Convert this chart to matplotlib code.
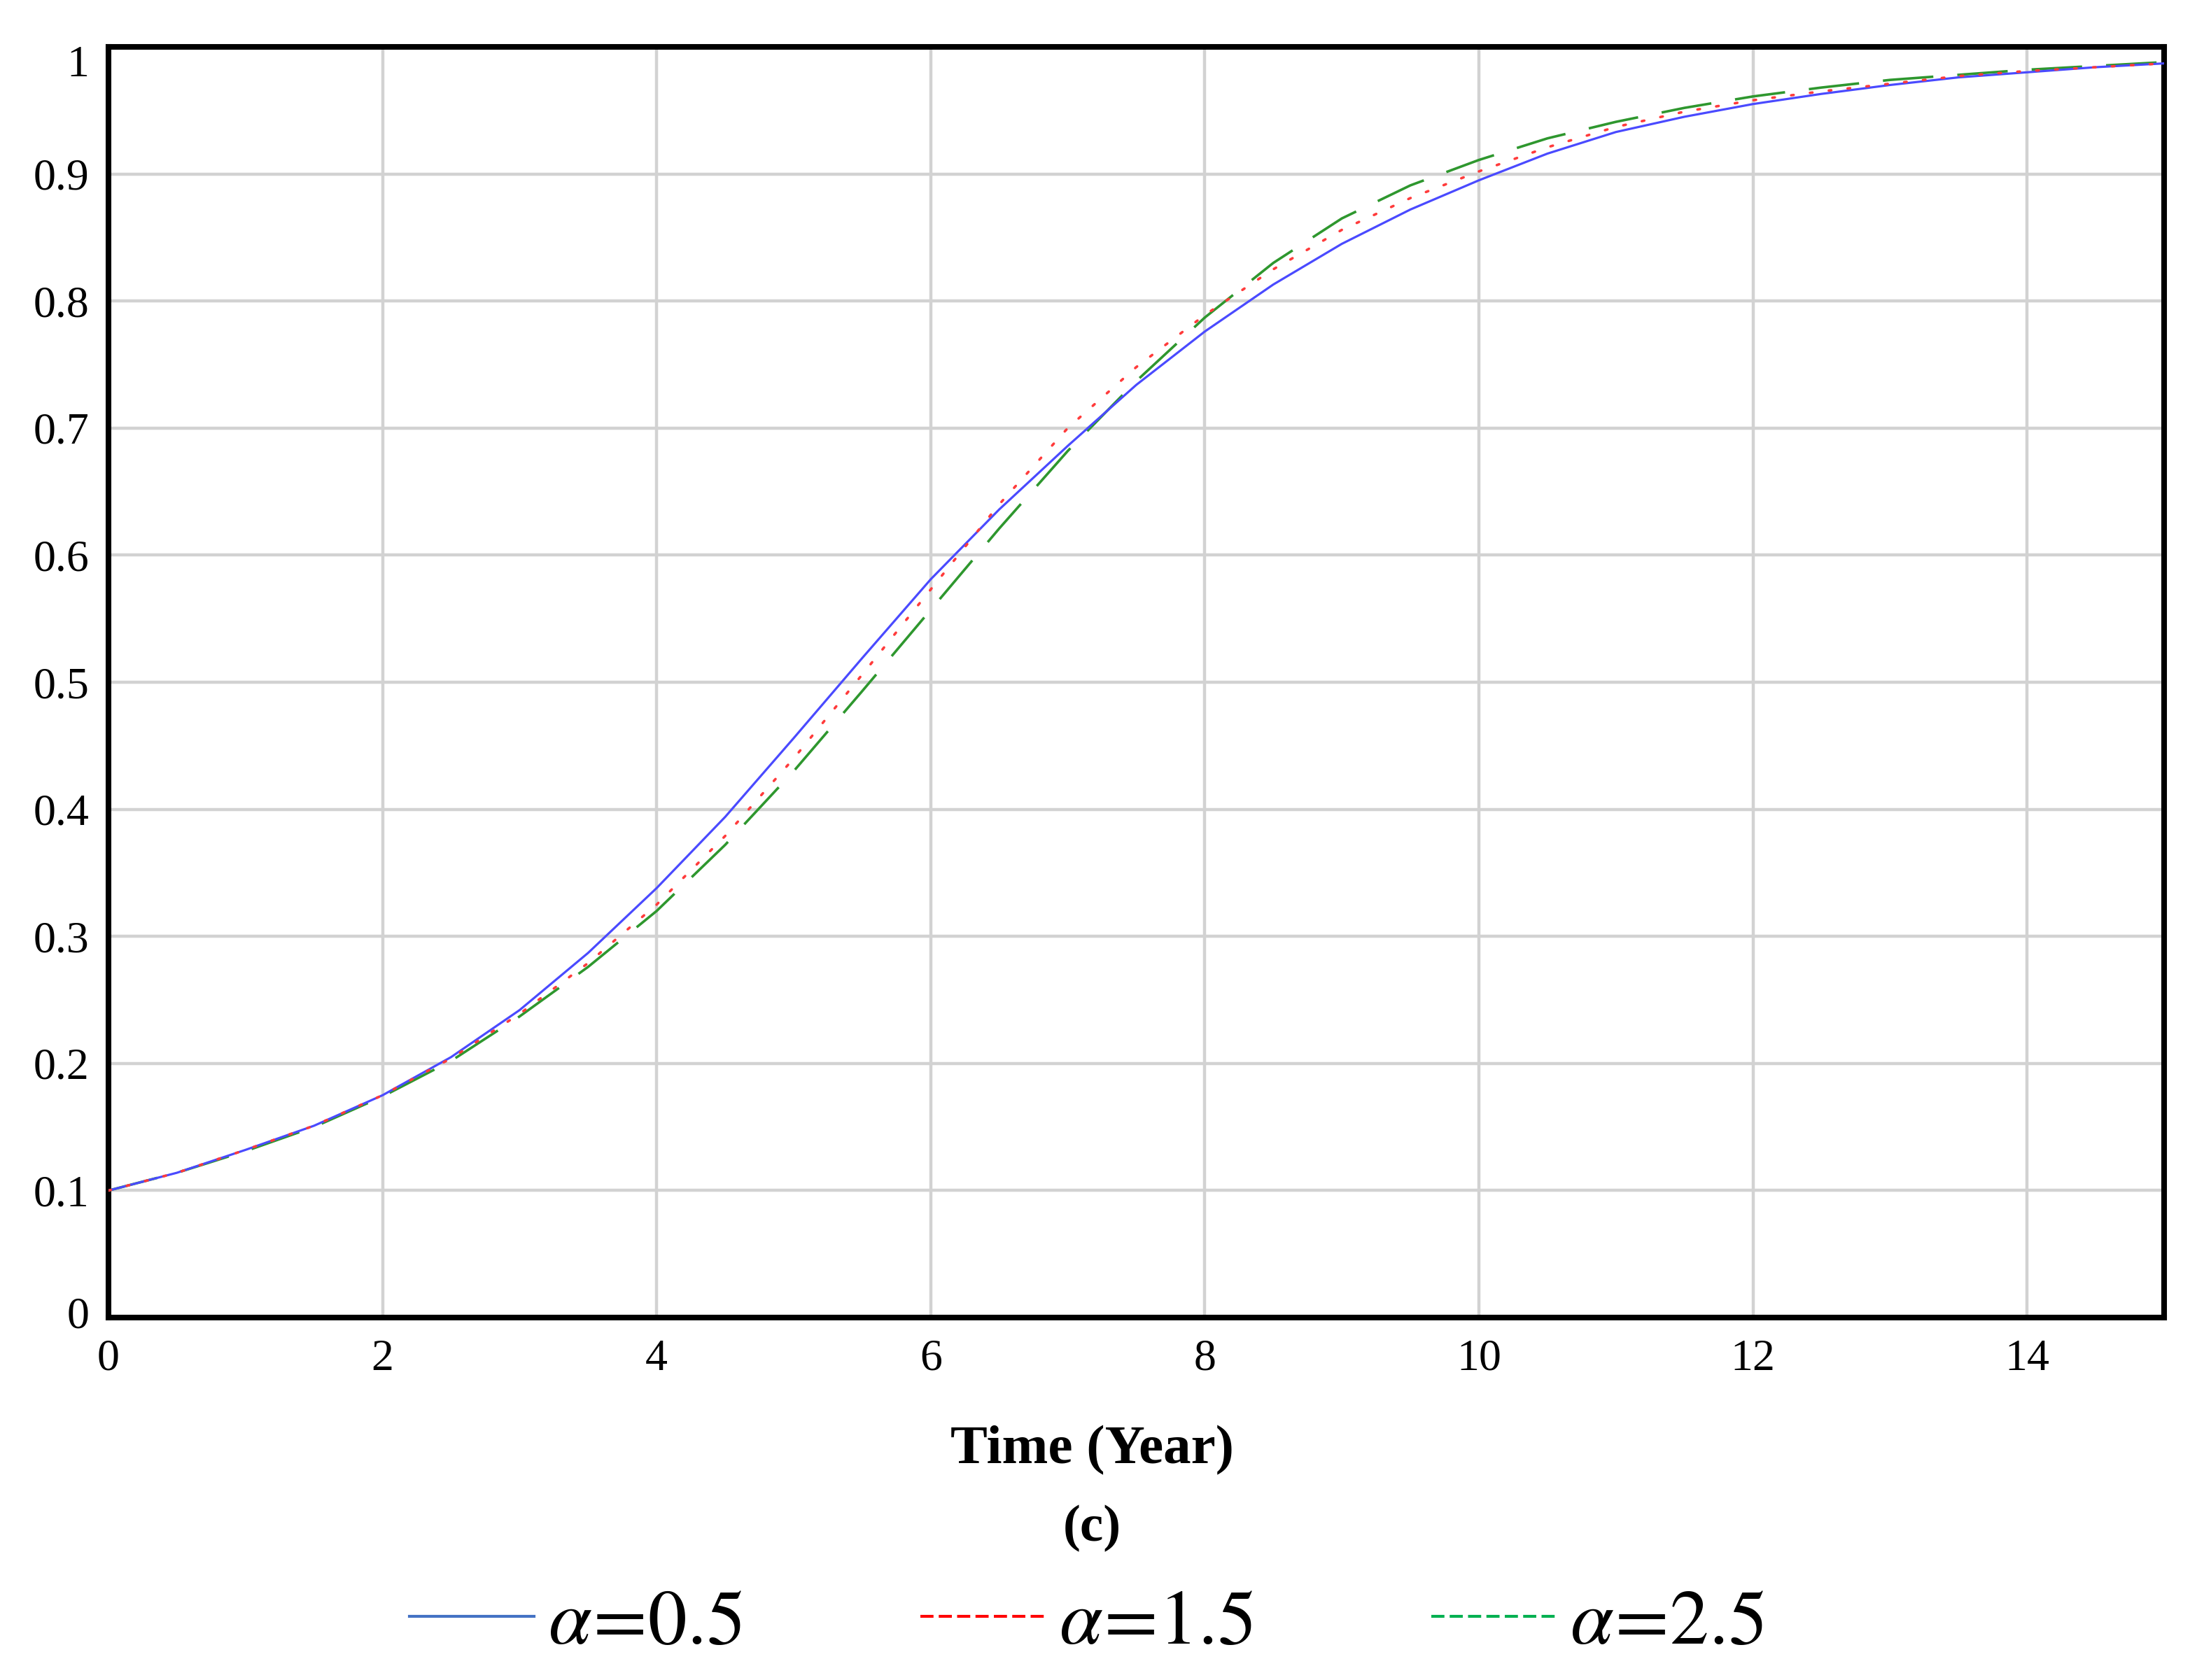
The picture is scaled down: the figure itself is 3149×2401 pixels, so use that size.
import matplotlib
matplotlib.use("Agg")
import matplotlib.pyplot as plt
from matplotlib.lines import Line2D
import matplotlib.transforms as mtransforms

plt.rcParams['font.family'] = ['Liberation Serif', 'DejaVu Serif']
plt.rcParams['mathtext.fontset'] = 'stix'

# ---- data ----
time_years = [0, 0.5, 1, 1.5, 2, 2.5, 3, 3.5, 4, 4.5, 5, 5.5, 6, 6.5, 7, 7.5,
              8, 8.5, 9, 9.5, 10, 10.5, 11, 11.5, 12, 12.5, 13, 13.5, 14, 14.5, 15]

alpha_05 = [0.100, 0.114, 0.132, 0.151, 0.175, 0.205, 0.242, 0.287, 0.338, 0.394,
            0.456, 0.519, 0.581, 0.636, 0.686, 0.734, 0.776, 0.813, 0.845, 0.872,
            0.895, 0.916, 0.933, 0.945, 0.955, 0.963, 0.970, 0.976, 0.980, 0.984, 0.987]

alpha_15 = [0.100, 0.114, 0.132, 0.151, 0.175, 0.204, 0.239, 0.279, 0.325, 0.379,
            0.440, 0.506, 0.573, 0.640, 0.700, 0.748, 0.789, 0.825, 0.856, 0.881,
            0.902, 0.921, 0.937, 0.949, 0.958, 0.965, 0.971, 0.977, 0.981, 0.984, 0.987]

alpha_25 = [0.100, 0.114, 0.131, 0.150, 0.174, 0.202, 0.237, 0.276, 0.320, 0.372,
            0.430, 0.493, 0.557, 0.621, 0.682, 0.737, 0.787, 0.830, 0.865, 0.891,
            0.911, 0.928, 0.941, 0.952, 0.961, 0.968, 0.974, 0.978, 0.982, 0.985, 0.988]

x_ticks = [0, 2, 4, 6, 8, 10, 12, 14]
y_ticks = [0, 0.1, 0.2, 0.3, 0.4, 0.5, 0.6, 0.7, 0.8, 0.9, 1.0]
y_tick_labels = ["0", "0.1", "0.2", "0.3", "0.4", "0.5", "0.6", "0.7", "0.8", "0.9", "1"]
legend_labels = [r"$\alpha\!=\!0.5$", r"$\alpha\!=\!1.5$", r"$\alpha\!=\!2.5$"]

# ---- figure ----
fig = plt.figure(figsize=(31.49, 24.01), dpi=100)
ax = fig.add_axes([0.0492, 0.2157, 0.9327, 0.7564])

ax.plot(time_years, alpha_05, color='#4a4aff', lw=2.3, solid_capstyle='round',
        solid_joinstyle='round', zorder=4)
ax.plot(time_years, alpha_15, color='#ff3b3b', lw=2.6, linestyle=(0, (1.0, 6.5)),
        dash_capstyle='round', zorder=5)
ax.plot(time_years, alpha_25, color='#2e972e', lw=2.6, linestyle=(0, (20, 9.5)),
        dash_joinstyle='round', zorder=3)

ax.set_xlim(0, 15)
ax.set_ylim(0, 1)
ax.set_xticks(x_ticks)
ax.set_xticklabels([str(v) for v in x_ticks])
ax.set_yticks(y_ticks)
ax.set_yticklabels(y_tick_labels)
ax.grid(True, color='#d2d2d2', lw=3.2)
ax.set_axisbelow(True)
ax.tick_params(axis='both', length=0, labelsize=46, colors='black')
ax.tick_params(axis='x', pad=22)
ax.tick_params(axis='y', pad=20)
for sp in ax.spines.values():
    sp.set_linewidth(5.8)
    sp.set_color('black')

# nudge end labels inward like the reference
ylabels = ax.get_yticklabels()
ylabels[-1].set_transform(ylabels[-1].get_transform() +
                          mtransforms.ScaledTranslation(0, -20 / 100, fig.dpi_scale_trans))
ylabels[0].set_transform(ylabels[0].get_transform() +
                         mtransforms.ScaledTranslation(0, 8 / 100, fig.dpi_scale_trans))

fig.text(0.4955, 0.1366, "Time (Year)", ha='center', va='center',
         fontsize=57, fontweight='bold')
fig.text(0.4955, 0.0905, "(c)", ha='center', va='center',
         fontsize=54, fontweight='bold')

handles = [
    Line2D([], [], color='#4472c4', lw=3.0),
    Line2D([], [], color='#ff0000', lw=3.0, linestyle=(0, (4.5, 1.8))),
    Line2D([], [], color='#00b050', lw=3.0, linestyle=(0, (4.5, 1.8))),
]
fig.legend(handles, legend_labels, loc='center', bbox_to_anchor=(0.493, 0.033),
           ncol=3, frameon=False, fontsize=80, handlelength=1.6,
           handletextpad=0.18, columnspacing=2.3, borderaxespad=0)

fig.savefig("out.png", dpi=100)
